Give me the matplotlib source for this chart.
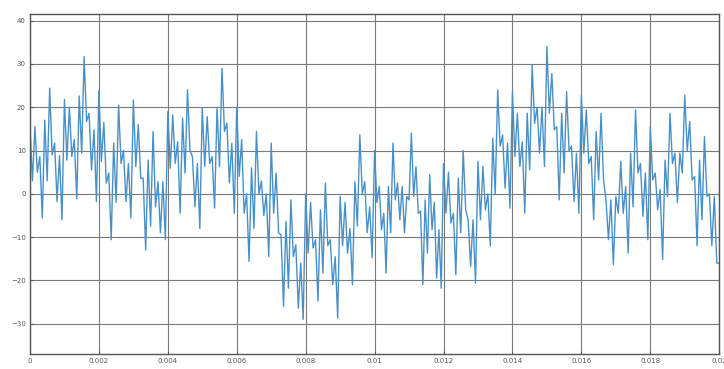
import numpy as np
import matplotlib
matplotlib.use("Agg")
import matplotlib.pyplot as plt

# signal values, one list per 0.002 s span
seg_00 = [15.5, 3, 15.5, 5, 8.6, -5.6, 17, 3, 24.4, 9, 11.7, -1.8, 8.8, -6,
          21.8, 7.8, 20, 8.6, 12.5, -1.2, 22.6, 9.4, 31.7, 16.7, 18.6, 5.5, 14.8, -1.8]
seg_02 = [23.8, 7.5, 16.5, 2.5, 4.8, -10.6, 11.7, -2, 20.5, 7, 10, -1.8, 7, -5.6,
          21.7, 6.3, 16, 3.6, 3.6, -13, 7.8, -7.5, 14.4, -3, 2.8, -9, 2.8, -10.6]
seg_04 = [19, 5.9, 18.2, 7, 12, -4.5, 17.5, 4.8, 24, 10, 8.6, -3, 7, -8,
          19.8, 6.3, 17.8, 7, 8.6, -3.3, 20, 6.3, 29, 14.4, 16.3, 2.5, 11.7, -4.5]
seg_06 = [20, 4, 12.5, -4.5, 0, -15.6, 6, -8, 14.4, 0, 3, -5, 0, -14.5,
          11.7, -4.5, 4.8, -9, -9.5, -26, -6.4, -21.8, -1.4, -14.5, -11.8, -26.4, -16, -29]
seg_08 = [0, -13.7, -2, -12.5, -10.6, -24.8, -3.7, -18.3, 2.5, -12, -10.6, -21, -14.5, -28.7,
          -0.6, -12, -2, -13.7, -8, -21, 2.8, -7.5, 13.6, 0, 2.8, -9, -3, -14.8]
seg_10 = [10, -2, 1.7, -8.3, -4.5, -18.3, 1.7, -9, 11.7, -1.4, 2.5, -6, 1.7, -9, -0.6,
          -1.4, 14, -0.6, 6.3, -4.5, -4, -21, -1.4, -13.7, 4.4, -8.3, -2, -19.5, -8.3, -21.8]
seg_12 = [7, -4.5, 5, -6.8, -4.5, -18.7, 3.6, -9, 10, -3.7, -6, -16.8, -6, -20.6,
          7.5, -6, 6.3, -3.7, 0, -12, 12.8, 0, 24, 11, 13.6, 1.3, 11.7, -3.3]
seg_14 = [23.6, 8.6, 18.6, 6.3, 12, -4.5, 18.6, 5.5, 29.8, 16.3, 20, 9.4, 20, 6.3,
          34, 18.6, 27.8, 14.8, 15.5, -1.4, 18.6, 4.8, 23.6, 10, 11, -1.8, 9.4, -4.5]
seg_16 = [22.8, 9.4, 19.4, 7, 8.6, -6, 14.4, 3.2, 18.6, 3.2, -1.4, -10.6, -1.4, -16.4,
          -0.6, -4.5, 7.5, -4.5, 1.7, -13.7, 9.4, -3, 19.4, 4.8, 7, -5.2, 4.8, -10.6]
seg_18 = [15.5, 3.2, 4.8, -3.7, 1, -15.2, 7.8, -0.6, 18.6, 7, 9.4, -2, 9.4, 4.8,
          22.8, 10, 16.7, 3.2, 4, -12, 7.8, -6, 13.2, -0.6, 0, -12, -0.6, -16]
segments = [seg_00, seg_02, seg_04, seg_06, seg_08, seg_10, seg_12, seg_14, seg_16, seg_18]
span = 0.002

x_ticks = [0, 0.002, 0.004, 0.006, 0.008, 0.01, 0.012, 0.014, 0.016, 0.018, 0.02]
x_labels = ["0", "0.002", "0.004", "0.006", "0.008", "0.01", "0.012", "0.014", "0.016", "0.018", "0.02"]
y_ticks = [-30, -20, -10, 0, 10, 20, 30, 40]

# sample times: each segment's values spread evenly over its own span
t, y = [], []
for k, seg in enumerate(segments):
    t.extend(k * span + span * np.arange(len(seg)) / len(seg))
    y.extend(seg)
t.append(0.02)
y.append(segments[-1][-1])

fig = plt.figure(figsize=(7.24, 3.69), dpi=100)
ax = fig.add_axes([0.0414, 0.0407, 0.952, 0.921])
ax.plot(t, y, color="#4a90c8", linewidth=1.0)
ax.set_xlim(0, 0.02)
ax.set_ylim(-37, 41.5)
ax.set_xticks(x_ticks)
ax.set_xticklabels(x_labels)
ax.set_yticks(y_ticks)
ax.grid(True, color="#7a7a7a", linewidth=0.8)
ax.set_axisbelow(True)
ax.tick_params(labelsize=5, colors="#555555", length=2, direction="in", pad=3)
for s in ax.spines.values():
    s.set_color("#555555")
    s.set_linewidth(1.0)

fig.savefig("out.png", dpi=100)
